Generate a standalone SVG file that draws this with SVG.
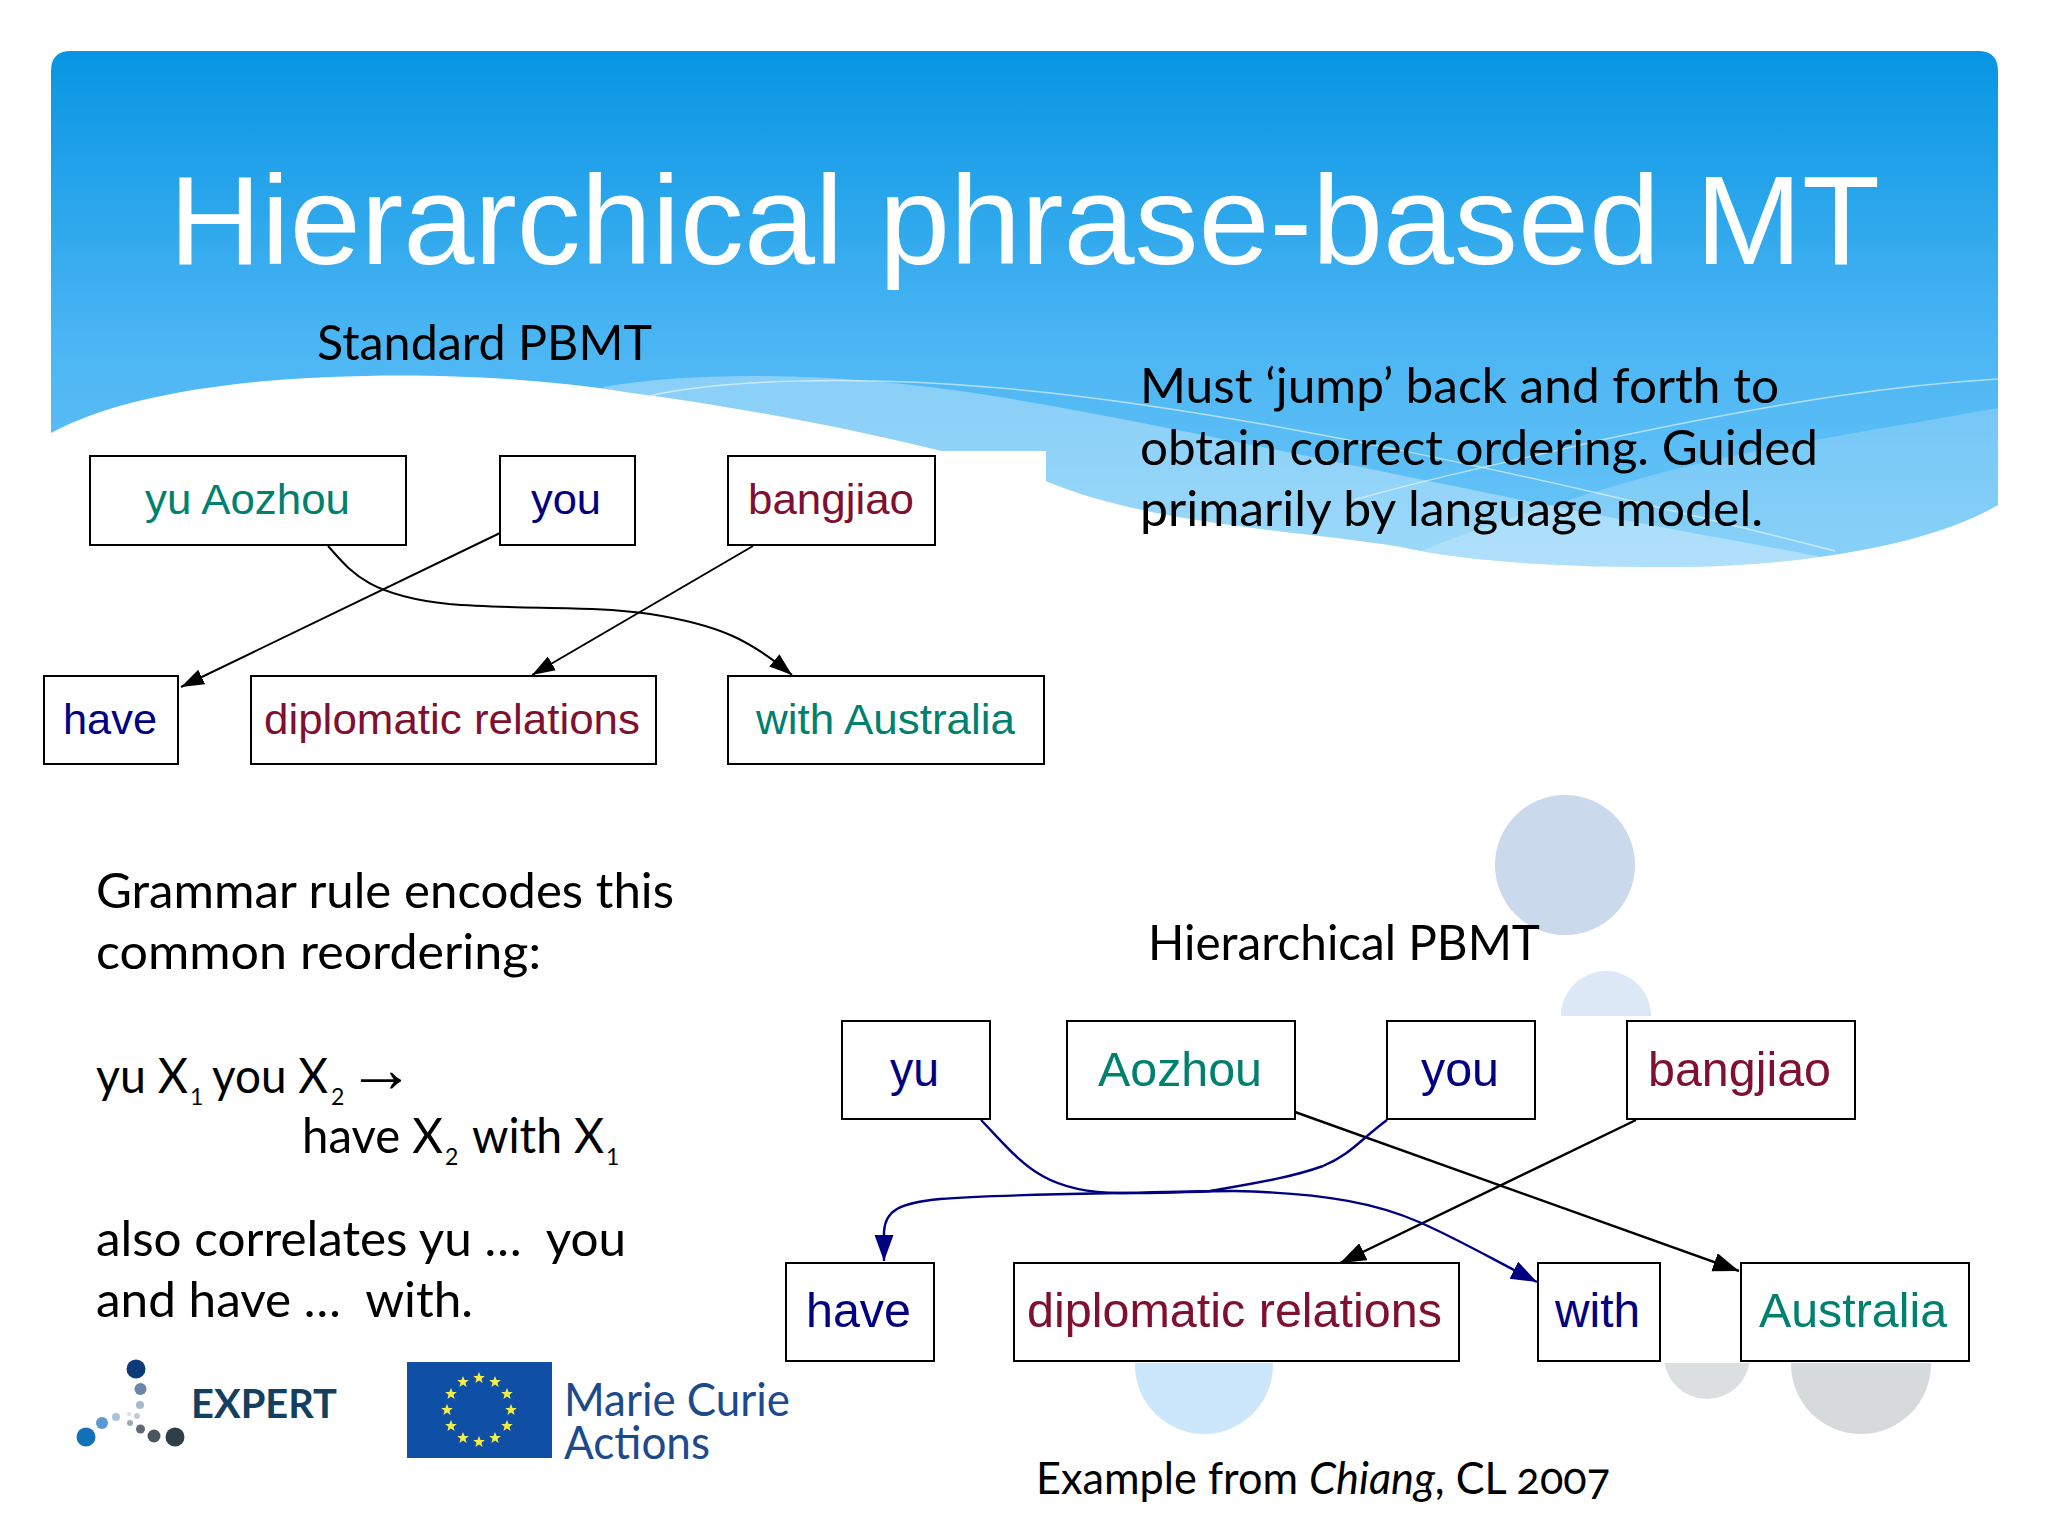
<svg xmlns="http://www.w3.org/2000/svg" xmlns:xlink="http://www.w3.org/1999/xlink" width="2048" height="1536" viewBox="0 0 2048 1536">
<defs>
<style>
.t{font-family:"Lato","Open Sans",sans-serif;font-size:49px;fill:#000}
.sub{font-size:23px}
.n{font-family:"Liberation Sans",Arial,sans-serif;font-size:43px}
.m{font-size:48px}
.teal{fill:#00806f}.navy{fill:#000080}.mar{fill:#801030}
.box{fill:#fff;stroke:#000;stroke-width:2}
.c{fill:none;stroke:#000;stroke-width:2}
.cb{fill:none;stroke:#000080;stroke-width:2}
.c2{stroke-width:2.4}
.wl{fill:none;stroke:#fff;stroke-opacity:.55;stroke-width:1.5}
</style>
<linearGradient id="g" x1="0" y1="51" x2="0" y2="567" gradientUnits="userSpaceOnUse">
<stop offset="0" stop-color="#0795e3"/><stop offset=".56" stop-color="#4ab5f3"/><stop offset="1" stop-color="#6cc6f8"/>
</linearGradient>
<clipPath id="wave"><path id="wp" d="M51,71 Q51,51 71,51 H1978 Q1998,51 1998,71 V505 C1930,545 1800,567 1668,567 C1560,567 1470,562 1401,547 C1300,530 1150,525 1046,481 C960,452 800,415 632,393 C540,378 440,374 365,376 C240,378 120,395 51,433 Z"/></clipPath>
<marker id="ak" markerUnits="userSpaceOnUse" markerWidth="26" markerHeight="18" refX="23" refY="8" orient="auto"><path d="M0,0 L23,8 L0,16 Z" fill="#000"/></marker>
<marker id="ab" markerUnits="userSpaceOnUse" markerWidth="30" markerHeight="20" refX="26" refY="9.500" orient="auto"><path d="M0,0 L26,9.500 L0,19 Z" fill="#000080"/></marker>
<marker id="akl" markerUnits="userSpaceOnUse" markerWidth="30" markerHeight="20" refX="26" refY="9.500" orient="auto"><path d="M0,0 L26,9.500 L0,19 Z" fill="#000"/></marker>
<polygon id="s" points="0,-6 1.6,-2 5.8,-1.9 2.5,.8 3.6,4.9 0,2.6 -3.6,4.9 -2.5,.8 -5.8,-1.9 -1.6,-2" fill="#f4ee4a"/>
<clipPath id="c1"><rect x="1500" y="950" width="200" height="66"/></clipPath>
<clipPath id="c2"><rect x="1100" y="1363" width="900" height="90"/></clipPath>
</defs>
<rect width="2048" height="1536" fill="#fff"/>
<g id="background">
<use xlink:href="#wp" href="#wp" fill="url(#g)"/>
<g clip-path="url(#wave)">
<path d="M603,387 C700,370 850,372 1000,397 C1200,430 1450,490 1802,553 L1900,575 L600,620 Z" fill="#fff" fill-opacity=".33"/>
<path d="M1998,408 C1850,435 1730,450 1601,490 C1520,515 1450,535 1380,570 L1998,620 Z" fill="#fff" fill-opacity=".2"/>
<path class="wl" d="M649,396 C720,380 850,375 1000,388 C1200,405 1500,465 1835,551"/>
<path class="wl" d="M1998,379 C1900,385 1800,398 1601,440 C1520,460 1440,475 1354,500"/>
</g>
<rect x="900" y="451" width="146" height="70" fill="#fff"/>
<circle cx="1565" cy="865" r="70" fill="#cbd9ec"/>
<circle cx="1606" cy="1016" r="45" fill="#dce8f6" clip-path="url(#c1)"/>
<circle cx="1204" cy="1365" r="69" fill="#cce7fb" clip-path="url(#c2)"/>
<circle cx="1707" cy="1356" r="43" fill="#dcdfe0" clip-path="url(#c2)"/>
<circle cx="1861" cy="1364" r="70" fill="#d7dadb" clip-path="url(#c2)"/>
</g>
<text id="title" x="169" y="264" font-family="Liberation Sans, Arial, sans-serif" font-size="126" fill="#fff" textLength="1711" lengthAdjust="spacingAndGlyphs">Hierarchical phrase-based MT</text>
<g id="texts">
<text class="t" x="317" y="360" textLength="335" lengthAdjust="spacingAndGlyphs">Standard PBMT</text>
<text class="t" x="1140" y="403" textLength="639" lengthAdjust="spacingAndGlyphs">Must ‘jump’ back and forth to</text>
<text class="t" x="1140" y="465" textLength="678" lengthAdjust="spacingAndGlyphs">obtain correct ordering. Guided</text>
<text class="t" x="1140" y="526" textLength="623" lengthAdjust="spacingAndGlyphs">primarily by language model.</text>
<text class="t" x="1148" y="960" textLength="392" lengthAdjust="spacingAndGlyphs">Hierarchical PBMT</text>
<text class="t" x="96" y="908" textLength="578" lengthAdjust="spacingAndGlyphs">Grammar rule encodes this</text>
<text class="t" x="96" y="969" textLength="445" lengthAdjust="spacingAndGlyphs">common reordering:</text>
<text class="t" x="96" y="1093" textLength="92" lengthAdjust="spacingAndGlyphs">yu X</text>
<text class="t sub" x="190" y="1105">1</text>
<text class="t" x="212" y="1093" textLength="116" lengthAdjust="spacingAndGlyphs">you X</text>
<text class="t sub" x="331" y="1105">2</text>
<text x="347" y="1092" font-family="Liberation Serif, serif" font-size="68">→</text>
<text class="t" x="302" y="1153" textLength="141" lengthAdjust="spacingAndGlyphs">have X</text>
<text class="t sub" x="445" y="1165">2</text>
<text class="t" x="472" y="1153" textLength="132" lengthAdjust="spacingAndGlyphs">with X</text>
<text class="t sub" x="606" y="1165">1</text>
<text class="t" x="96" y="1256" textLength="530" lengthAdjust="spacingAndGlyphs" xml:space="preserve">also correlates yu …  you</text>
<text class="t" x="96" y="1317" textLength="377" lengthAdjust="spacingAndGlyphs" xml:space="preserve">and have …  with.</text>
<text class="t" x="1036" y="1494" textLength="574" lengthAdjust="spacingAndGlyphs" style="font-variant-numeric:oldstyle-nums;font-size:44px">Example from <tspan font-style="italic">Chiang</tspan>, CL 2007</text>
</g>
<g id="connectors">
<path class="c" marker-end="url(#ak)" d="M500,533 L181,687"/>
<path class="c" marker-end="url(#ak)" d="M753,546 L532,675"/>
<path class="c" marker-end="url(#ak)" d="M328,546 C350,570 365,595 449,604 C520,610 590,605 650,614 C720,625 750,640 792,675"/>
<path class="c c2" marker-end="url(#akl)" d="M1295,1112 L1739,1271"/>
<path class="c c2" marker-end="url(#akl)" d="M1636,1120 L1340,1263"/>
<path class="cb c2" marker-end="url(#ab)" d="M981,1120 C1020,1160 1040,1193 1120,1193 C1170,1194 1190,1191 1234,1191 C1330,1193 1380,1205 1419,1222 C1460,1240 1490,1258 1537,1282"/>
<path class="cb c2" marker-end="url(#ab)" d="M1387,1120 C1360,1140 1350,1155 1323,1166 C1290,1178 1250,1184 1210,1191 C1100,1194 1000,1194 940,1199 C900,1203 885,1210 884,1232 L884,1261"/>
</g>
<g id="n-yuaozhou"><rect class="box" x="90" y="456" width="316" height="89"/><text class="n teal" x="145" y="514" textLength="205" lengthAdjust="spacingAndGlyphs">yu Aozhou</text></g>
<g id="n-you1"><rect class="box" x="500" y="456" width="135" height="89"/><text class="n navy" x="531" y="514" textLength="70" lengthAdjust="spacingAndGlyphs">you</text></g>
<g id="n-bangjiao1"><rect class="box" x="728" y="456" width="207" height="89"/><text class="n mar" x="748" y="514" textLength="166" lengthAdjust="spacingAndGlyphs">bangjiao</text></g>
<g id="n-have1"><rect class="box" x="44" y="676" width="134" height="88"/><text class="n navy" x="63" y="734" textLength="94" lengthAdjust="spacingAndGlyphs">have</text></g>
<g id="n-diplomatic1"><rect class="box" x="251" y="676" width="405" height="88"/><text class="n mar" x="264" y="734" textLength="376" lengthAdjust="spacingAndGlyphs">diplomatic relations</text></g>
<g id="n-withaustralia"><rect class="box" x="728" y="676" width="316" height="88"/><text class="n teal" x="756" y="734" textLength="259" lengthAdjust="spacingAndGlyphs">with Australia</text></g>
<g id="n-yu"><rect class="box" x="842" y="1021" width="148" height="98"/><text class="n m navy" x="890" y="1086" textLength="49" lengthAdjust="spacingAndGlyphs">yu</text></g>
<g id="n-aozhou"><rect class="box" x="1067" y="1021" width="228" height="98"/><text class="n m teal" x="1098" y="1086" textLength="164" lengthAdjust="spacingAndGlyphs">Aozhou</text></g>
<g id="n-you2"><rect class="box" x="1387" y="1021" width="148" height="98"/><text class="n m navy" x="1421" y="1086" textLength="78" lengthAdjust="spacingAndGlyphs">you</text></g>
<g id="n-bangjiao2"><rect class="box" x="1627" y="1021" width="228" height="98"/><text class="n m mar" x="1648" y="1086" textLength="183" lengthAdjust="spacingAndGlyphs">bangjiao</text></g>
<g id="n-have2"><rect class="box" x="786" y="1263" width="148" height="98"/><text class="n m navy" x="806" y="1327" textLength="105" lengthAdjust="spacingAndGlyphs">have</text></g>
<g id="n-diplomatic2"><rect class="box" x="1014" y="1263" width="445" height="98"/><text class="n m mar" x="1027" y="1327" textLength="415" lengthAdjust="spacingAndGlyphs">diplomatic relations</text></g>
<g id="n-with"><rect class="box" x="1538" y="1263" width="122" height="98"/><text class="n m navy" x="1555" y="1327" textLength="85" lengthAdjust="spacingAndGlyphs">with</text></g>
<g id="n-australia"><rect class="box" x="1741" y="1263" width="228" height="98"/><text class="n m teal" x="1759" y="1327" textLength="188" lengthAdjust="spacingAndGlyphs">Australia</text></g>
<g id="logo-expert">
<circle cx="136" cy="1369" r="9.5" fill="#0c3a7a"/><circle cx="140.500" cy="1389" r="6" fill="#6a85a8"/><circle cx="140" cy="1405" r="4" fill="#a5bace"/><circle cx="137" cy="1416" r="3" fill="#c0ccd6"/><circle cx="129" cy="1414" r="2" fill="#d8e0e6"/><circle cx="116" cy="1417" r="4" fill="#a9c3d8"/><circle cx="102" cy="1423" r="6" fill="#5a9ad2"/><circle cx="86" cy="1437" r="9.5" fill="#1170b8"/><circle cx="130" cy="1423" r="3" fill="#a0a8b0"/><circle cx="140.500" cy="1429" r="4.500" fill="#5e6a72"/><circle cx="154" cy="1436" r="6.500" fill="#4b5760"/><circle cx="175" cy="1437" r="9.5" fill="#2f3f48"/>
<text x="191" y="1418" font-family="Lato, sans-serif" font-weight="700" font-size="40" fill="#153f5e" textLength="146" lengthAdjust="spacingAndGlyphs">EXPERT</text>
</g>
<g id="logo-mc">
<rect x="407" y="1362" width="145" height="96" fill="#0f4fa5"/>
<use href="#s" x="479" y="1378"/><use href="#s" x="495" y="1382"/><use href="#s" x="507" y="1394"/><use href="#s" x="511" y="1410"/><use href="#s" x="507" y="1426"/><use href="#s" x="495" y="1438"/><use href="#s" x="479" y="1442"/><use href="#s" x="463" y="1438"/><use href="#s" x="451" y="1426"/><use href="#s" x="447" y="1410"/><use href="#s" x="451" y="1394"/><use href="#s" x="463" y="1382"/>
<text x="564" y="1416" font-family="Lato, sans-serif" font-size="46" fill="#1d4a8c" textLength="226" lengthAdjust="spacingAndGlyphs">Marie Curie</text>
<text x="564" y="1459" font-family="Lato, sans-serif" font-size="46" fill="#1d4a8c" textLength="146" lengthAdjust="spacingAndGlyphs">Actions</text>
</g>
</svg>
